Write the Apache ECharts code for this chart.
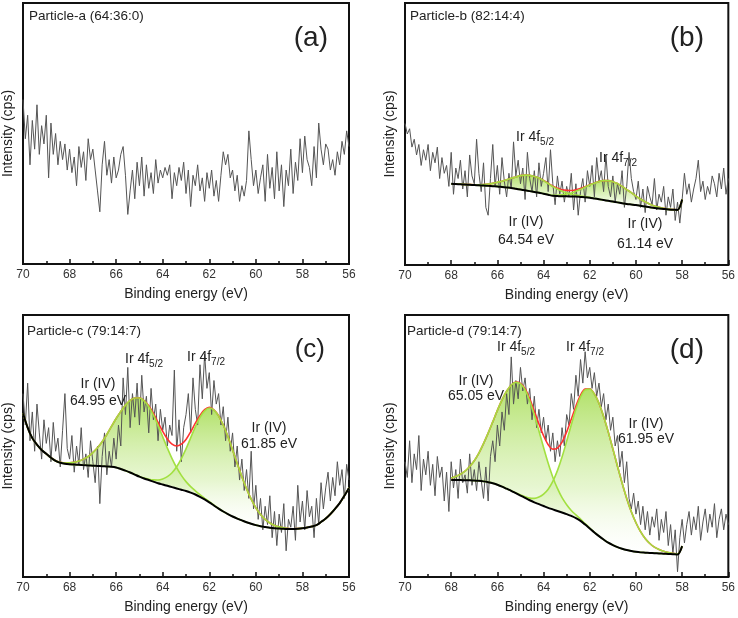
<!DOCTYPE html>
<html>
<head>
<meta charset="utf-8">
<script src="https://cdn.jsdelivr.net/npm/echarts@6/dist/echarts.min.js"></script>
<style>
  html, body { margin: 0; padding: 0; background: #fff; }
  #chart { width: 738px; height: 618px; }
</style>
</head>
<body>
<div id="chart"></div>
<script>
// energy grid of the measured spectra: 70.0 -> 56.0 eV, 0.1 eV step
const rawStart = 70;
const rawStep = 0.1;
// fitted curves are sampled every 0.2 eV
const fitStep = 0.2;

// measured intensity (arb. units, 0-100 of the panel height)
const spectrumA = [
  63, 48, 57, 38, 55, 44, 61, 42, 53, 46,
  57, 33, 54, 42, 50, 38, 47, 40, 46, 36,
  44, 35, 41, 30, 45, 37, 43, 32, 48, 40,
  44, 36, 28, 20, 38, 47, 34, 40, 31, 41,
  33, 36, 42, 45, 34, 19, 28, 36, 25, 39,
  30, 41, 26, 38, 29, 35, 27, 40, 31, 36,
  33, 37, 34, 38, 25, 35, 30, 37, 32, 39,
  27, 36, 22, 34, 30, 38, 28, 33, 24, 35,
  29, 36, 26, 32, 24, 34, 43, 38, 42, 33,
  36, 28, 34, 24, 30, 26, 32, 51, 40, 30,
  36, 27, 33, 38, 24, 42, 29, 37, 25, 43,
  28, 38, 22, 36, 30, 44, 27, 39, 32, 48,
  35, 49, 40, 37, 30, 45, 33, 54, 44, 38,
  46, 44, 36, 40, 34, 43, 38, 47, 42, 51, 45
];
const spectrumB = [
  54, 50, 52, 45, 48, 42, 46, 38, 44, 40,
  46, 36, 43, 39, 45, 33, 41, 35, 38, 30,
  43, 27, 37, 33, 40, 29, 36, 26, 42, 34,
  31, 48, 35, 28, 39, 22, 19, 33, 46, 30,
  38, 27, 41, 32, 26, 35, 29, 47, 34, 40,
  31, 37, 25, 43, 33, 28, 36, 26, 39, 30,
  35, 41, 28, 44, 31, 23, 34, 27, 32, 24,
  30, 26, 35, 21, 31, 19, 28, 33, 24, 36,
  30, 38, 26, 41, 32, 36, 28, 42, 30, 26,
  34, 24, 31, 27, 36, 22, 30, 43, 33, 28,
  25, 32, 22, 29, 20, 30, 26, 23, 33, 21,
  27, 24, 30, 19, 26, 22, 29, 17, 24, 16,
  25, 35, 27, 31, 24, 29, 33, 40, 28, 32,
  25, 30, 27, 34, 31, 26, 35, 29, 37, 27, 33
];
const spectrumC = [
  70, 58, 74, 52, 63, 48, 66, 55, 45, 60,
  51, 57, 44, 59, 48, 53, 42, 56, 70, 49,
  45, 54, 40, 50, 43, 57, 41, 47, 38, 52,
  44, 36, 50, 28, 46, 55, 39, 48, 42, 53,
  45, 58, 50, 76, 62, 80, 57, 70, 61, 74,
  58, 77, 63, 69, 55, 72, 60, 66, 52, 64,
  56, 61, 50, 58, 54, 79, 48, 60, 44, 57,
  62, 70, 55, 76, 64, 58, 81, 68, 85, 72,
  78, 62, 75, 66, 70, 58, 65, 52, 61, 48,
  55, 42, 50, 37, 45, 33, 41, 30, 48, 26,
  35, 22, 30, 18, 27, 20, 31, 15, 25, 12,
  24, 17, 28, 10, 22, 19, 27, 14, 35, 21,
  29, 18, 33, 23, 27, 15, 30, 20, 36, 26,
  34, 40, 29, 38, 31, 44, 35, 41, 30, 43, 37
];
const spectrumD = [
  44, 38, 52, 36, 47, 41, 54, 33, 45, 39,
  48, 35, 43, 31, 46, 38, 42, 29, 40, 25,
  44, 34, 41, 30, 45, 36, 39, 32, 47, 35,
  41, 33, 44, 37, 30, 42, 29, 46, 52, 44,
  58, 50, 63, 56, 70, 62, 84, 66, 75, 68,
  80, 71, 76, 66, 72, 60, 69, 57, 64, 55,
  61, 52, 58, 48, 55, 44, 52, 46, 57, 50,
  62, 58, 70, 64, 77, 69, 83, 74, 86, 76,
  80, 72, 78, 69, 74, 65, 70, 60, 66, 56,
  61, 50, 54, 42, 48, 36, 44, 30, 26, 32,
  24, 29, 20, 27, 18, 25, 16, 23, 19, 26,
  14, 22, 17, 25, 12, 20, 9, 18, 2, 15,
  22, 13, 20, 25, 16, 23, 18, 27, 14, 21,
  26, 17, 24, 19, 28, 15, 22, 26, 18, 24, 20
];

// panel b fit, 68.0 -> 58.0 eV
const fitStartB = 68;
const baselineB = [
  31.0, 30.9, 30.8, 30.7, 30.6, 30.5, 30.4, 30.3, 30.2, 30.1,
  30.0, 29.8, 29.6, 29.4, 29.1, 28.8, 28.5, 28.2, 27.9, 27.6,
  27.2, 26.8, 26.4, 26.3, 26.2, 26.2, 26.1, 26.1, 26.0, 25.9,
  25.7, 25.4, 25.1, 24.8, 24.5, 24.2, 23.9, 23.6, 23.3, 23.1,
  22.9, 22.6, 22.3, 22.0, 21.8, 21.6, 21.4, 21.2, 21.1, 21.0,
  25.0
];
// Ir 4f5/2 (64.54 eV) and Ir 4f7/2 (61.14 eV), height above the baseline
const peak1B = [
  0, 0, 0, 0.04, 0.08, 0.14, 0.25, 0.44, 0.7, 1.1,
  1.6, 2.2, 2.9, 3.7, 4.5, 5.3, 5.8, 6.0, 5.9, 5.6,
  5.0, 4.3, 3.5, 2.7, 1.97, 1.39, 0.93, 0.59, 0.35, 0.2,
  0.11, 0.05, 0.02, 0, 0, 0, 0, 0, 0, 0,
  0, 0, 0, 0, 0, 0, 0, 0, 0, 0,
  0
];
const peak2B = [
  0, 0, 0, 0, 0, 0, 0, 0, 0, 0,
  0, 0, 0, 0, 0, 0, 0, 0, 0, 0.02,
  0.05, 0.1, 0.18, 0.33, 0.56, 0.9, 1.4, 2.06, 2.85, 3.8,
  4.8, 5.8, 6.8, 7.4, 7.7, 7.6, 7.2, 6.4, 5.5, 4.5,
  3.4, 2.5, 1.8, 1.2, 0.76, 0.45, 0.26, 0.14, 0.07, 0.03,
  0
];

// panel c fit, 70.0 -> 56.0 eV
const fitStartC = 70;
const baselineC = [
  62.5, 57, 53, 50.5, 48.5, 47, 45.5, 44.3, 43.6, 43.2,
  43.0, 42.9, 42.8, 42.7, 42.6, 42.5, 42.4, 42.3, 42.2, 42.1,
  41.8, 41.2, 40.6, 39.9, 39.1, 38.3, 37.6, 37.0, 36.4, 35.8,
  35.3, 34.8, 34.3, 33.8, 33.3, 32.8, 32.2, 31.5, 30.6, 29.6,
  28.5, 27.3, 26.1, 25.0, 24.0, 23.1, 22.3, 21.6, 20.9, 20.3,
  19.8, 19.4, 19.1, 18.8, 18.6, 18.5, 18.4, 18.3, 18.3, 18.4,
  18.6, 18.9, 19.3, 19.8, 21.0, 22.3, 24.0, 26.0, 28.2, 31.0,
  34.0
];
const peak1C = [
  0, 0, 0, 0, 0, 0, 0.05, 0.1, 0.18, 0.3,
  0.55, 0.9, 1.5, 2.3, 3.4, 5.0, 6.9, 9.3, 12.2, 15.4,
  18.7, 22.0, 25.0, 27.5, 29.2, 30.0, 29.6, 28.0, 25.4, 22.0,
  18.2, 14.4, 10.9, 7.9, 5.5, 3.6, 2.3, 1.4, 0.8, 0.45,
  0.24, 0.12, 0.05, 0, 0, 0, 0, 0, 0, 0,
  0, 0, 0, 0, 0, 0, 0, 0, 0, 0,
  0, 0, 0, 0, 0, 0, 0, 0, 0, 0,
  0
];
const peak2C = [
  0, 0, 0, 0, 0, 0, 0, 0, 0, 0,
  0, 0, 0, 0, 0, 0, 0, 0, 0, 0,
  0, 0, 0, 0, 0, 0.08, 0.17, 0.34, 0.66, 1.2,
  2.1, 3.5, 5.5, 8.3, 11.9, 16.1, 20.9, 25.8, 30.3, 33.8,
  36.0, 36.4, 35.4, 33.0, 29.6, 25.4, 21.0, 16.7, 12.8, 9.4,
  6.6, 4.5, 2.9, 1.8, 1.1, 0.63, 0.35, 0.19, 0.1, 0.05,
  0, 0, 0, 0, 0, 0, 0, 0, 0, 0,
  0
];

// panel d fit, 68.0 -> 58.0 eV
const fitStartD = 68;
const baselineD = [
  37.0, 37.0, 37.0, 36.9, 36.9, 36.8, 36.7, 36.5, 36.2, 35.8,
  35.2, 34.5, 33.7, 32.9, 32.0, 31.1, 30.2, 29.3, 28.5, 27.8,
  27.1, 26.4, 25.8, 25.2, 24.6, 24.0, 23.3, 22.5, 21.4, 20.0,
  18.5, 17.0, 15.6, 14.3, 13.1, 12.2, 11.4, 10.8, 10.3, 9.9,
  9.6, 9.4, 9.3, 9.2, 9.1, 9.0, 8.9, 8.8, 8.7, 8.6,
  11.8
];
const peak1D = [
  0.8, 1.4, 2.2, 3.5, 5.3, 7.6, 10.6, 14.4, 18.7, 23.4,
  28.4, 33.1, 37.2, 40.4, 42.3, 42.6, 41.2, 37.9, 33.3, 27.9,
  22.3, 17.0, 12.3, 8.6, 5.7, 3.6, 2.1, 1.2, 0.7, 0.35,
  0.17, 0.08, 0.03, 0, 0, 0, 0, 0, 0, 0,
  0, 0, 0, 0, 0, 0, 0, 0, 0, 0,
  0
];
const peak2D = [
  0, 0, 0, 0, 0, 0, 0, 0, 0, 0,
  0, 0, 0, 0, 0.1, 0.2, 0.44, 0.8, 1.5, 2.7,
  4.5, 7.1, 10.7, 15.4, 21.2, 27.8, 34.8, 41.5, 47.3, 51.4,
  53.2, 52.8, 50.7, 47.0, 42.3, 36.7, 30.9, 25.1, 19.7, 15.0,
  11.1, 7.9, 5.4, 3.6, 2.3, 1.5, 0.9, 0.5, 0.3, 0.15,
  0
];

const panelTitles = ['Particle-a (64:36:0)', 'Particle-b (82:14:4)', 'Particle-c (79:14:7)', 'Particle-d (79:14:7)'];
const panelTags = ['(a)', '(b)', '(c)', '(d)'];
const xTicks = { min: 56, max: 70, interval: 2 };

const font = '"Liberation Sans", Arial, Helvetica, sans-serif';
const grids = [
  { left: 23, top: 3, width: 326, height: 261 },
  { left: 405, top: 3, width: 326, height: 262 },
  { left: 23, top: 315, width: 326, height: 262 },
  { left: 405, top: 315, width: 326, height: 262 }
];

const chart = echarts.init(document.getElementById('chart'), null, { renderer: 'canvas' });

function xAxisFor(i) {
  return {
    gridIndex: i,
    type: 'value',
    inverse: true,
    min: xTicks.min,
    max: xTicks.max,
    interval: xTicks.interval,
    name: 'Binding energy (eV)',
    nameLocation: 'middle',
    nameGap: 23,
    nameTextStyle: { fontSize: 14, color: '#222', fontFamily: font },
    axisLine: { show: true, lineStyle: { color: '#111', width: 2 } },
    axisTick: { show: true, inside: true, length: 5, lineStyle: { color: '#111', width: 1.5 } },
    minorTick: { show: true, splitNumber: 2, length: 3, lineStyle: { color: '#111', width: 1.5 } },
    axisLabel: { fontSize: 12, color: '#333', margin: 5, fontFamily: font },
    splitLine: { show: false }
  };
}

function yAxisFor(i) {
  return {
    gridIndex: i,
    type: 'value',
    min: 0,
    max: 100,
    name: 'Intensity (cps)',
    nameLocation: 'middle',
    nameGap: 8,
    nameTextStyle: { fontSize: 14, color: '#222', fontFamily: font },
    axisLine: { show: true, lineStyle: { color: '#111', width: 2 } },
    axisTick: { show: false },
    axisLabel: { show: false },
    splitLine: { show: false }
  };
}

function spectrumSeries(i, values) {
  return {
    type: 'line',
    xAxisIndex: i,
    yAxisIndex: i,
    data: values.map((v, k) => [rawStart - k * rawStep, v]),
    symbol: 'none',
    lineStyle: { color: '#555', width: 1 },
    silent: true
  };
}

const fillGradient = () => new echarts.graphic.LinearGradient(0, 0, 0, 1, [
  { offset: 0, color: 'rgba(165, 220, 80, 0.85)' },
  { offset: 0.6, color: 'rgba(200, 235, 150, 0.45)' },
  { offset: 1, color: 'rgba(255, 255, 255, 0.15)' }
]);

// shaded region between a fitted component and the background
function fillSeries(i, xs, base, top) {
  return {
    type: 'custom',
    xAxisIndex: i,
    yAxisIndex: i,
    silent: true,
    clip: true,
    data: [[xs[0], top[0]]],
    renderItem: function (params, api) {
      const upper = xs.map((x, k) => api.coord([x, top[k]]));
      const lower = xs.map((x, k) => api.coord([x, base[k]])).reverse();
      return {
        type: 'polygon',
        shape: { points: upper.concat(lower), smooth: 0 },
        style: { fill: fillGradient() }
      };
    }
  };
}

function fitSeries(i, start, base, p1, p2) {
  const xs = base.map((_, k) => start - k * fitStep);
  const pairs = arr => arr.map((v, k) => [xs[k], v]);
  const top1 = base.map((b, k) => b + p1[k]);
  const top2 = base.map((b, k) => b + p2[k]);
  const envelope = base.map((b, k) => b + p1[k] + p2[k]);
  const line = (data, color, width) => ({
    type: 'line', xAxisIndex: i, yAxisIndex: i, symbol: 'none', silent: true, smooth: 0.3,
    data: pairs(data), lineStyle: { color: color, width: width }
  });
  return [
    fillSeries(i, xs, base, top1),
    fillSeries(i, xs, base, top2),
    line(envelope, '#ff3030', 1.6),
    line(top1, '#a2e040', 1.6),
    line(top2, '#a2e040', 1.6),
    line(base, '#000', 2)
  ];
}

function text(x, y, str, size, align) {
  return {
    type: 'text', x: x, y: y, z: 100, silent: true,
    style: { text: str, fontSize: size, fontFamily: font, fill: '#222', align: align || 'left', verticalAlign: 'middle' }
  };
}
function twoLine(x, y, str, lh) {
  return {
    type: 'text', x: x, y: y, z: 100, silent: true,
    style: { text: str, fontSize: 14, lineHeight: lh, fontFamily: font, fill: '#222', align: 'center', verticalAlign: 'middle' }
  };
}
function orbital(x, y, sub) {
  return {
    type: 'text', x: x, y: y, z: 100, silent: true,
    style: {
      text: '{m|Ir 4f}{s|' + sub + '}',
      align: 'left', verticalAlign: 'middle',
      rich: {
        m: { fontSize: 14, lineHeight: 20, fontFamily: font, fill: '#222', color: '#222' },
        s: { fontSize: 10, lineHeight: 10, verticalAlign: 'bottom', fontFamily: font, fill: '#222', color: '#222' }
      }
    }
  };
}

const graphics = [
  text(29, 16, panelTitles[0], 13.5),
  text(410, 16, panelTitles[1], 13.5),
  text(27, 331, panelTitles[2], 13.5),
  text(407, 331, panelTitles[3], 13.5),
  text(328, 38, panelTags[0], 28, 'right'),
  text(704, 38, panelTags[1], 28, 'right'),
  text(325, 350, panelTags[2], 26, 'right'),
  text(704, 350, panelTags[3], 28, 'right'),
  // panel b
  orbital(516, 137, '5/2'),
  orbital(599, 158, '7/2'),
  twoLine(526, 231, 'Ir (IV)\n64.54 eV', 18),
  twoLine(645, 234, 'Ir (IV)\n61.14 eV', 20),
  // panel c
  orbital(125, 359, '5/2'),
  orbital(187, 357, '7/2'),
  twoLine(98, 393, 'Ir (IV)\n64.95 eV', 17),
  twoLine(269, 436, 'Ir (IV)\n61.85 eV', 16),
  // panel d
  orbital(497, 347, '5/2'),
  orbital(566, 347, '7/2'),
  twoLine(476, 389, 'Ir (IV)\n65.05 eV', 15),
  twoLine(646, 432, 'Ir (IV)\n61.95 eV', 15)
];

const option = {
  animation: false,
  backgroundColor: '#fff',
  grid: grids.map(g => Object.assign({ show: true, borderColor: '#111', borderWidth: 2, containLabel: false }, g)),
  xAxis: [0, 1, 2, 3].map(xAxisFor),
  yAxis: [0, 1, 2, 3].map(yAxisFor),
  series: [].concat(
    spectrumSeries(0, spectrumA),
    spectrumSeries(1, spectrumB),
    fitSeries(1, fitStartB, baselineB, peak1B, peak2B),
    spectrumSeries(2, spectrumC),
    fitSeries(2, fitStartC, baselineC, peak1C, peak2C),
    spectrumSeries(3, spectrumD),
    fitSeries(3, fitStartD, baselineD, peak1D, peak2D)
  ),
  graphic: graphics
};

chart.setOption(option);
</script>
</body>
</html>
